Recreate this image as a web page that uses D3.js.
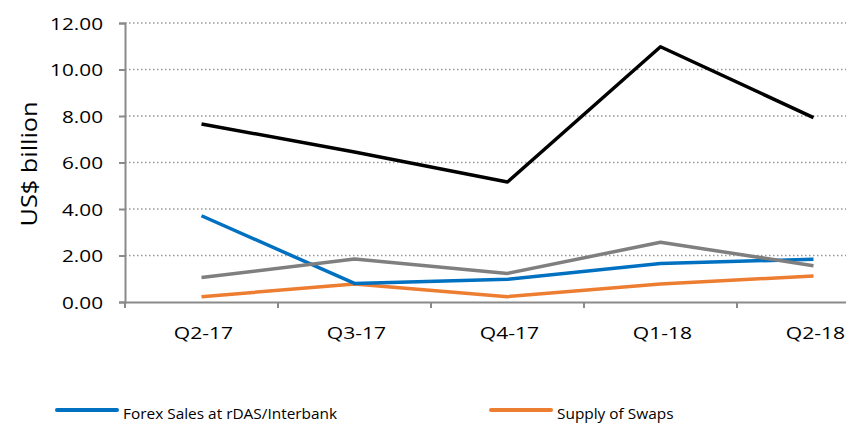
<!DOCTYPE html>
<html><head><meta charset="utf-8">
<script src="https://cdn.jsdelivr.net/npm/d3@7"></script>
<style>body{margin:0;background:#fff}svg{display:block}</style>
</head><body>
<script>
const categories = ["Q2-17","Q3-17","Q4-17","Q1-18","Q2-18"];
const forexSales = [3.71, 0.80, 0.98, 1.66, 1.84];
const supplySwaps = [0.23, 0.77, 0.23, 0.77, 1.12];
const greySeries = [1.05, 1.85, 1.23, 2.57, 1.56];
const blackSeries = [7.66, 6.45, 5.16, 10.98, 7.93];
const yTicks = [0, 2, 4, 6, 8, 10, 12];
const legendNames = ["Forex Sales at rDAS/Interbank", "Supply of Swaps"];

const W = 846, H = 426;
const svg = d3.select("body").append("svg").attr("width", W).attr("height", H);
const mLeft = 125, mTop = 23, mBottom = 302, bandW = 153;
const x = d3.scaleBand().domain(categories).range([mLeft, mLeft + bandW * categories.length]);
const y = d3.scaleLinear().domain([0, 12]).range([mBottom, mTop]);
const font = "'Open Sans',sans-serif";

function stretch(sel, factor) {
  sel.each(function() {
    const w = this.getComputedTextLength();
    d3.select(this).attr("textLength", w * factor).attr("lengthAdjust", "spacingAndGlyphs");
  });
}

// gridlines
svg.append("g").selectAll("line").data(yTicks.filter(d => d > 0)).join("line")
  .attr("x1", mLeft).attr("x2", W).attr("y1", d => y(d)).attr("y2", d => y(d))
  .attr("stroke", "#969696").attr("stroke-width", 1.3).attr("stroke-dasharray", "1.5,2.5");

// y axis
const yAxis = svg.append("g").attr("transform", `translate(${mLeft},0)`)
  .call(d3.axisLeft(y).tickValues(yTicks).tickFormat(d3.format(".2f")).tickSize(6).tickPadding(16));
yAxis.select(".domain").attr("stroke", "#8a8a8a").attr("stroke-width", 2);
yAxis.selectAll(".tick line").attr("stroke", "#8a8a8a").attr("stroke-width", 2);
yAxis.selectAll("text").attr("font-family", font).attr("font-size", 17).attr("fill", "#000").attr("dy", "0.36em");
stretch(yAxis.selectAll("text"), 1.22);

// x axis
const xAxis = svg.append("g").attr("transform", `translate(0,${mBottom})`)
  .call(d3.axisBottom(x).tickSize(0));
xAxis.select(".domain").attr("stroke", "#8a8a8a").attr("stroke-width", 2);
xAxis.selectAll("text").attr("font-family", font).attr("font-size", 17).attr("fill", "#000")
  .attr("y", 37).attr("dy", null).attr("dx", 2);
stretch(xAxis.selectAll("text"), 1.24);
svg.append("g").selectAll("line").data(categories).join("line")
  .attr("x1", d => x(d)).attr("x2", d => x(d)).attr("y1", mBottom).attr("y2", mBottom + 6)
  .attr("stroke", "#8a8a8a").attr("stroke-width", 2);

// y title
const yt = svg.append("text").attr("transform", "translate(37,164) rotate(-90)")
  .attr("text-anchor", "middle").attr("font-family", font)
  .attr("font-size", 21).text("US$ billion");
yt.attr("textLength", 125).attr("lengthAdjust", "spacingAndGlyphs");

const series = [
  {values: supplySwaps, color: "#ED7D31"},
  {values: forexSales, color: "#0070C0"},
  {values: greySeries, color: "#7F7F7F"},
  {values: blackSeries, color: "#000000"}
];
const line = d3.line().x((d, i) => x(categories[i]) + x.bandwidth() / 2).y(d => y(d));
series.forEach(s => {
  svg.append("path").attr("d", line(s.values)).attr("fill", "none")
    .attr("stroke", s.color).attr("stroke-width", 3.5).attr("stroke-linejoin", "round");
});

// legend (only the visible first row)
const legendColors = ["#0070C0", "#ED7D31"];
const lg = svg.append("g");
legendNames.forEach((name, i) => {
  const lx = 57 + i * 434, ly = 410;
  lg.append("line").attr("x1", lx).attr("x2", lx + 60).attr("y1", ly).attr("y2", ly)
    .attr("stroke", legendColors[i]).attr("stroke-width", 4).attr("stroke-linecap", "round");
  const t = lg.append("text").attr("x", lx + 66).attr("y", ly + 9)
    .attr("font-family", font).attr("font-size", 14).text(name);
  stretch(t, 1.1);
});
</script>
</body></html>
